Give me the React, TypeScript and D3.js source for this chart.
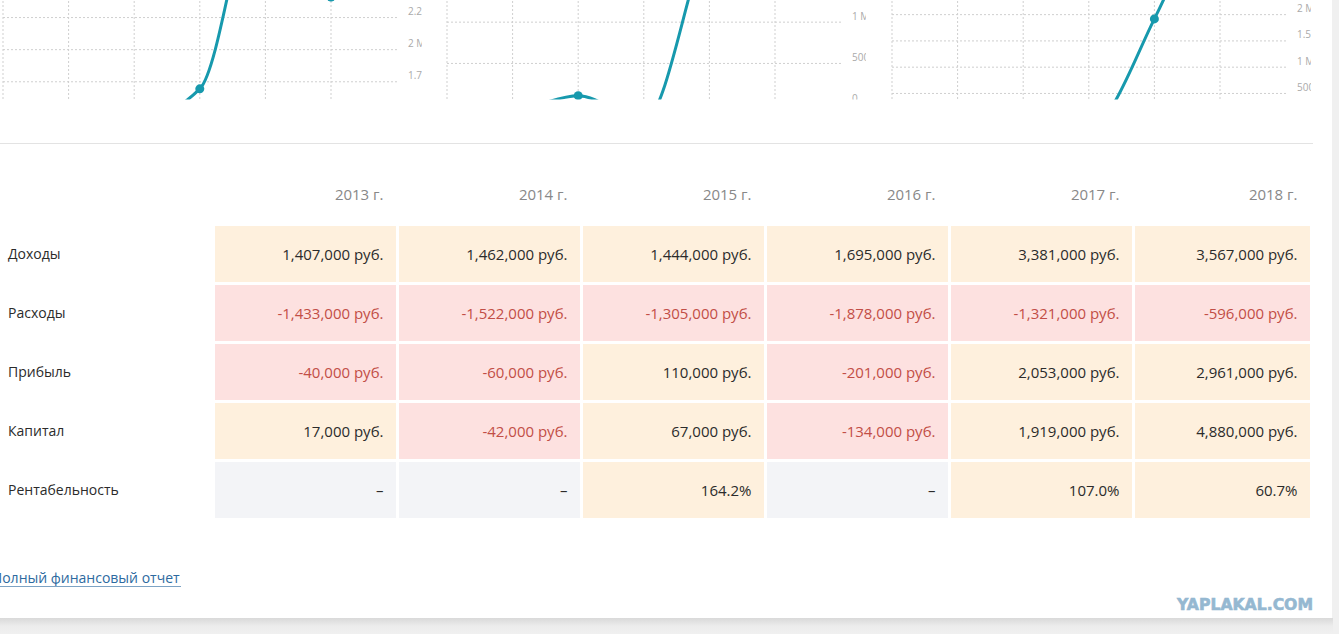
import React from 'react';
import * as d3 from 'd3';

// years shown in the table and on the chart x axes
const years = [2013, 2014, 2015, 2016, 2017, 2018];
const yearLabels = years.map((y) => `${y} г.`);

const rowNames = ['Доходы', 'Расходы', 'Прибыль', 'Капитал', 'Рентабельность'];

const income = [1407000, 1462000, 1444000, 1695000, 3381000, 3567000];
const expenses = [-1433000, -1522000, -1305000, -1878000, -1321000, -596000];
const profit = [-40000, -60000, 110000, -201000, 2053000, 2961000];
const capital = [17000, -42000, 67000, -134000, 1919000, 4880000];
const profitability: (number | null)[] = [null, null, 164.2, null, 107.0, 60.7];

// the three line charts above the table (cut off by the page), values in millions
const chart1Values = [1.407, 1.462, 1.444, 1.695, 3.381, 2.41];
const chart2Values = [-0.04, -0.06, 0.11, -0.201, 2.053, 2.961];
const chart3Values = [0.017, -0.042, 0.067, -0.134, 1.919, 4.88];

const chart1Ticks = [1.25, 1.5, 1.75, 2, 2.25, 2.5, 2.75, 3, 3.25, 3.5];
const chart2Ticks = [-0.5, 0, 0.5, 1, 1.5, 2, 2.5, 3];
const chart3Ticks = [-0.5, 0, 0.5, 1, 1.5, 2, 2.5, 3, 3.5, 4, 4.5, 5];

const LINE = '#1799ad';
const FONT = '"Open Sans", "DejaVu Sans", sans-serif';

const tickLabel = (v: number) => {
  if (v === 0) return '0';
  if (Math.abs(v) < 1) return `${Math.round(v * 1000)} k`;
  return `${v} M`;
};

interface MiniChartProps {
  id: string;
  left: number;
  values: number[];
  domain: [number, number];
  ticks: number[];
}

function MiniChart({ id, left, values, domain, ticks }: MiniChartProps) {
  const plotW = 394;
  const step = 65.6;
  const x = d3.scaleLinear().domain([years[0], years[0] + 6]).range([left, left + step * 6]);
  const y = d3.scaleLinear().domain(domain).range([146, -143]);
  const right = left + plotW;
  const labelX = right + 11;

  const line = d3
    .line<number>()
    .x((_, i) => x(years[i]))
    .y((d) => y(d))
    .curve(d3.curveMonotoneX);

  return (
    <g>
      <defs>
        <clipPath id={id}>
          <rect x={left - 4} y={-200} width={labelX + 14 - (left - 4)} height={299.5} />
        </clipPath>
      </defs>
      <g clipPath={`url(#${id})`}>
        {years.map((yr) => (
          <line
            key={yr}
            x1={x(yr)}
            x2={x(yr)}
            y1={-143}
            y2={146}
            stroke="#cfcfcf"
            strokeWidth={1}
            strokeDasharray="2,2"
          />
        ))}
        {ticks.map((t) => (
          <g key={t}>
            <line
              x1={left}
              x2={right}
              y1={y(t)}
              y2={y(t)}
              stroke="#cfcfcf"
              strokeWidth={1}
              strokeDasharray="2,2"
            />
            <text x={labelX} y={y(t) - 2.5} fontSize={10} fill="#aaa" fontFamily={FONT}>
              {tickLabel(t)}
            </text>
          </g>
        ))}
        <path d={line(values) || ''} fill="none" stroke={LINE} strokeWidth={3} />
        {values.map((v, i) => (
          <circle key={i} cx={x(years[i])} cy={y(v)} r={4.5} fill={LINE} />
        ))}
      </g>
    </g>
  );
}

const rowValues: (number | null)[][] = [income, expenses, profit, capital, profitability];

function cellFill(v: number | null) {
  if (v === null) return '#f3f4f7';
  return v < 0 ? '#fde1e0' : '#fef0dd';
}

function cellText(row: number, v: number | null) {
  if (v === null) return '–';
  if (row === 4) return `${d3.format('.1f')(v)}%`;
  return `${d3.format(',')(v).replace('−', '-')} руб.`;
}

export default function App() {
  const W = 1339;
  const H = 634;

  const colX = d3
    .scaleBand<number>()
    .domain(years)
    .range([215, 215 + 184 * 6 - 3])
    .paddingInner(3 / 184);
  const rowY = d3
    .scaleBand<string>()
    .domain(rowNames)
    .range([226, 226 + 59 * 5 - 3])
    .paddingInner(3 / 59);
  const tableRight = 1310;

  return (
    <div style={{ position: 'fixed', left: 0, top: 0 }}>
      <svg width={W} height={H} style={{ display: 'block' }}>
        <defs>
          <linearGradient id="shadow" x1="0" y1="0" x2="0" y2="1">
            <stop offset="0" stopColor="#d9d9d9" />
            <stop offset="0.5" stopColor="#ececec" />
            <stop offset="1" stopColor="#f0f0f0" />
          </linearGradient>
        </defs>
        <rect x={0} y={0} width={W} height={H} fill="#f0f0f0" />
        <rect x={0} y={618} width={1333} height={16} fill="url(#shadow)" />
        <rect x={0} y={0} width={1332} height={618} fill="#fff" />

        <MiniChart id="c1" left={3} values={chart1Values} domain={[1.25, 3.5]} ticks={chart1Ticks} />
        <MiniChart id="c2" left={447} values={chart2Values} domain={[-0.5, 3]} ticks={chart2Ticks} />
        <MiniChart id="c3" left={892} values={chart3Values} domain={[-0.5, 5]} ticks={chart3Ticks} />

        <line x1={0} x2={1313} y1={143.5} y2={143.5} stroke="#e3e3e3" strokeWidth={1} />

        {years.map((yr, i) => {
          const x0 = colX(yr) || 0;
          const w = Math.min(colX.bandwidth(), tableRight - x0);
          return (
            <text
              key={yr}
              x={x0 + w - 12.5}
              y={195}
              dy="0.35em"
              textAnchor="end"
              fontSize={15}
              fill="#888"
              fontFamily={FONT}
            >
              {yearLabels[i]}
            </text>
          );
        })}

        {rowNames.map((name, r) => {
          const y0 = rowY(name) || 0;
          const h = rowY.bandwidth();
          return (
            <g key={name}>
              <text x={8} y={y0 + h / 2 + 0.5} dy="0.35em" fontSize={14} fill="#2b2b2b" fontFamily={FONT}>
                {name}
              </text>
              {years.map((yr, c) => {
                const v = rowValues[r][c];
                const x0 = colX(yr) || 0;
                const w = Math.min(colX.bandwidth(), tableRight - x0);
                return (
                  <g key={yr}>
                    <rect x={x0} y={y0} width={w} height={h} fill={cellFill(v)} />
                    <text
                      x={x0 + w - 12.5}
                      y={y0 + h / 2 + 0.5}
                      dy="0.35em"
                      textAnchor="end"
                      fontSize={15}
                      fill={v !== null && v < 0 ? '#c24e46' : '#2b2b2b'}
                      fontFamily={FONT}
                    >
                      {cellText(r, v)}
                    </text>
                  </g>
                );
              })}
            </g>
          );
        })}

        <text x={-8} y={578} dy="0.35em" fontSize={14} fill="#2d6aa0" fontFamily={FONT}>
          Полный финансовый отчет
        </text>
        <line x1={0} x2={181} y1={586.5} y2={586.5} stroke="#7da3c4" strokeWidth={1} />

        <text
          x={1177}
          y={610}
          fontSize={15}
          fontWeight="bold"
          fill="#95b8d1"
          fontFamily='"DejaVu Sans", sans-serif'
          textLength={136}
          lengthAdjust="spacingAndGlyphs"
          stroke="#95b8d1"
          strokeWidth={0.6}
        >
          YAPLAKAL.COM
        </text>
      </svg>
    </div>
  );
}
